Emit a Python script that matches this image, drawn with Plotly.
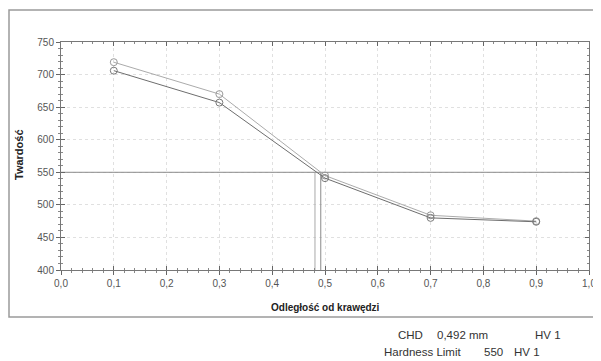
import plotly.graph_objects as go

# ---- data ----
depth = [0.1, 0.3, 0.5, 0.7, 0.9]
hardness_a = [719, 670, 545, 484, 475]
hardness_b = [706, 657, 541, 480, 474]
chd_values = [0.481, 0.492]
hardness_limit = 550
x_ticks = [0.0, 0.1, 0.2, 0.3, 0.4, 0.5, 0.6, 0.7, 0.8, 0.9, 1.0]
x_tick_labels = ["0,0", "0,1", "0,2", "0,3", "0,4", "0,5", "0,6", "0,7", "0,8", "0,9", "1,0"]
y_ticks = [400, 450, 500, 550, 600, 650, 700, 750]
x_title = "Odległość od krawędzi"
y_title = "Twardość"

# page body has an 8px margin; compensate so the plot lands where the reference has it
O = 8
W, H = 601 - O, 361 - O
L, R, T = 61 - O, 12, 42 - O
PW, PH = 528, 228
B = H - T - PH

def px(p):
    return (p - O - L) / PW

def py(p):
    return (H - B - (p - O)) / PH

fig = go.Figure()

# hardness limit line
fig.add_trace(go.Scatter(x=[x_ticks[0], x_ticks[-1]], y=[hardness_limit, hardness_limit],
                         mode="lines", line=dict(color="#8a8a8a", width=1),
                         hoverinfo="skip", showlegend=False))
# CHD vertical lines
for c, col in zip(chd_values, ["#a8a8a8", "#8a8a8a"]):
    fig.add_trace(go.Scatter(x=[c, c], y=[y_ticks[0], hardness_limit], mode="lines",
                             line=dict(color=col, width=1), hoverinfo="skip", showlegend=False))

fig.add_trace(go.Scatter(x=depth, y=hardness_a, mode="lines+markers",
                         line=dict(color="#ababab", width=1),
                         marker=dict(symbol="circle-open", size=7, color="#9a9a9a", line=dict(width=1)),
                         showlegend=False))
fig.add_trace(go.Scatter(x=depth, y=hardness_b, mode="lines+markers",
                         line=dict(color="#6e6e6e", width=1),
                         marker=dict(symbol="circle-open", size=7, color="#7a7a7a", line=dict(width=1)),
                         showlegend=False))

axis_font = dict(family="Liberation Sans, Arial, sans-serif", size=10, color="#555555")

fig.update_layout(
    width=W, height=H,
    margin=dict(l=L, r=R, t=T, b=B, autoexpand=False),
    paper_bgcolor="white", plot_bgcolor="white",
    xaxis=dict(range=[0, 1], tickvals=x_ticks, ticktext=x_tick_labels, automargin=False,
               showgrid=True, gridcolor="#e0e0e0", griddash="dot", gridwidth=1,
               zeroline=False, showline=True, linecolor="#777777", linewidth=1, mirror=True,
               ticks="outside", ticklen=4, tickcolor="#666666",
               minor=dict(dtick=0.02, ticks="outside", ticklen=2, tickcolor="#888888", showgrid=False),
               tickfont=axis_font),
    yaxis=dict(range=[400, 750], tickvals=y_ticks, automargin=False,
               showgrid=True, gridcolor="#e0e0e0", griddash="dot", gridwidth=1,
               zeroline=False, showline=True, linecolor="#777777", linewidth=1, mirror=True,
               ticks="outside", ticklen=4, tickcolor="#666666",
               minor=dict(dtick=10, ticks="outside", ticklen=2, tickcolor="#888888", showgrid=False),
               tickfont=axis_font),
    xaxis2=dict(overlaying="x", matches="x", range=[0, 1], tickvals=x_ticks, showticklabels=False,
                automargin=False,
                showgrid=False, zeroline=False, showline=False, mirror="allticks",
                ticks="inside", ticklen=4, tickcolor="#666666",
                minor=dict(dtick=0.02, ticks="inside", ticklen=2, tickcolor="#888888")),
    yaxis2=dict(overlaying="y", matches="y", range=[400, 750], tickvals=y_ticks, showticklabels=False,
                automargin=False,
                showgrid=False, zeroline=False, showline=False, mirror="allticks",
                ticks="inside", ticklen=4, tickcolor="#666666",
                minor=dict(dtick=10, ticks="inside", ticklen=2, tickcolor="#888888")),
)

# dummy trace to activate overlay axes
fig.add_trace(go.Scatter(x=[None], y=[None], xaxis="x2", yaxis="y2", showlegend=False, hoverinfo="skip"))

# outer frame
fig.add_shape(type="rect", xref="paper", yref="paper",
              x0=px(9), x1=px(610), y0=py(317), y1=py(10),
              line=dict(color="#9a9a9a", width=1.5), layer="below")

title_font = dict(family="Liberation Sans, Arial, sans-serif", color="#222222")
fig.add_annotation(text="<b>" + x_title + "</b>", xref="paper", yref="paper",
                   x=px(325), y=py(307), xanchor="center", yanchor="middle", showarrow=False,
                   font=dict(size=10, **title_font))
fig.add_annotation(text="<b>" + y_title + "</b>", xref="paper", yref="paper", textangle=-90,
                   x=px(19), y=py(155), xanchor="center", yanchor="middle", showarrow=False,
                   font=dict(size=11, **title_font))

txt_font = dict(family="Liberation Sans, Arial, sans-serif", size=11.5, color="#333333")
annots = [
    ("CHD", 425, 335, "right"),
    ("0,492 mm", 435, 335, "left"),
    ("HV 1", 533, 335, "left"),
    ("Hardness Limit", 463, 352, "right"),
    ("550", 482, 352, "left"),
    ("HV 1", 512, 352, "left"),
]
for t, x, y, anc in annots:
    fig.add_annotation(text=t, xref="paper", yref="paper", x=px(x), y=py(y),
                       xanchor=anc, yanchor="middle", showarrow=False, font=txt_font)

fig.write_html("out.html")
